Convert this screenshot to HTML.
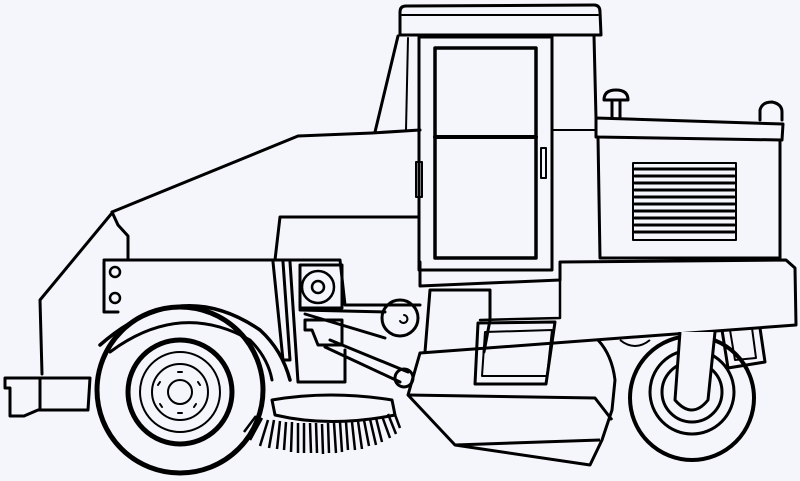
<!DOCTYPE html>
<html><head><style>html,body{margin:0;padding:0;background:#f4f6fc}svg{display:block}</style></head>
<body>
<svg width="800" height="481" viewBox="0 0 800 481" xmlns="http://www.w3.org/2000/svg">
<rect width="800" height="481" fill="#f4f6fc"/>
<g fill="none" stroke="#000" stroke-width="3" stroke-linejoin="round" stroke-linecap="round">
<path d="M400,35 L400,12 Q400,6 406,6 L594,5 Q600,5 600,12 L601,35 Z"/>
<line x1="402" y1="15" x2="598" y2="15" stroke-width="2"/>
<path d="M398,36 L375,132"/>
<path d="M408,38 L406,130" stroke-width="2"/>
<path d="M594,36 L596,118"/>
<path d="M112,212 L298,136 L372,133 L420,130"/>
<path d="M112,212 L118,225 L128,236 L128,258"/>
<rect x="419" y="37" width="133" height="233"/>
<rect x="435" y="48" width="101" height="210" stroke-width="3.5"/>
<line x1="435" y1="137" x2="536" y2="137" stroke-width="4"/>
<rect x="416" y="162" width="6" height="35" stroke-width="2"/>
<rect x="541" y="148" width="5" height="30" stroke-width="2"/>
<line x1="552" y1="130" x2="596" y2="130" stroke-width="2"/>
<path d="M596,118 L783,124 L782,140 L596,137 Z"/>
<path d="M598,137 L600,258 L780,258 L780,140"/>
<rect x="633" y="163" width="103" height="77" stroke-width="2"/>
<g stroke-width="3">
<line x1="635" y1="169" x2="734" y2="169"/><line x1="635" y1="176" x2="734" y2="176"/>
<line x1="635" y1="183" x2="734" y2="183"/><line x1="635" y1="190" x2="734" y2="190"/>
<line x1="635" y1="197" x2="734" y2="197"/><line x1="635" y1="204" x2="734" y2="204"/>
<line x1="635" y1="211" x2="734" y2="211"/><line x1="635" y1="218" x2="734" y2="218"/>
<line x1="635" y1="225" x2="734" y2="225"/><line x1="635" y1="232" x2="734" y2="232"/>
</g>
<path d="M612,118 L612,102 M620,118 L620,102 M604,100 Q604,90 616,90 Q628,90 628,100 Z"/>
<path d="M760,120 L760,110 Q762,102 772,102 Q782,104 782,112 L782,120"/>
<path d="M418,217 L280,217 L275,260"/>
<path d="M104,262 L104,312 L118,312"/>
<path d="M104,260 L340,260 L345,305 L420,305"/>
<circle cx="115" cy="272" r="5" stroke-width="2.5"/>
<circle cx="115" cy="298" r="5" stroke-width="2.5"/>
<path d="M420,262 L420,286 L560,280 L560,262 L786,260 L795,268 L796,325 L420,353"/>
<path d="M430,290 L425,352 M430,290 L490,290 L490,320 L484,352"/>
<path d="M480,320 L560,318 L560,270" stroke-width="2.5"/>
<path d="M478,323 L555,322 L546,384 L475,384 Z"/>
<path d="M485,332 L552,330 L547,376 L482,376 Z" stroke-width="2"/>
<path d="M100,345 Q180,275 260,330 Q282,350 290,380" stroke-width="3.5"/>
<path d="M110,352 Q180,300 250,340 Q268,358 272,380"/>
<path d="M112,213 L40,300 L42,374"/>
<path d="M5,378 L90,378 L88,410 L38,410 L24,416 L10,416 L10,388 L5,388 Z"/>
<line x1="40" y1="380" x2="40" y2="410"/>
<circle cx="180" cy="390" r="83" stroke-width="5"/>
<circle cx="180" cy="392" r="52" stroke-width="5"/>
<circle cx="180" cy="392" r="40" stroke-width="2"/>
<circle cx="180" cy="392" r="28" stroke-width="2"/>
<circle cx="180" cy="392" r="12" stroke-width="2"/>
<g stroke-width="2"><path d="M178,372 h4 M198,382 l2,3 M196,404 l-2,3 M178,413 h4 M160,404 l2,3 M160,382 l-2,3"/></g>
<path d="M273,262 L283,360 L290,360 L283,262"/>
<path d="M290,262 L298,382 L345,382 L345,350"/>
<path d="M300,265 L342,265 L342,308 L300,308 Z"/>
<circle cx="318" cy="287" r="16" stroke-width="2.5"/>
<circle cx="318" cy="287" r="6" stroke-width="2.5"/>
<path d="M300,310 L385,312 M305,314 L385,338"/>
<circle cx="400" cy="318" r="18"/>
<path d="M404,315 a4,4 0 1 1 -4,6" stroke-width="2"/>
<path d="M305,320 L342,320 L342,345 L318,345 L312,330 L305,330 Z"/>
<path d="M325,347 L400,382 M330,340 L408,372"/>
<circle cx="404" cy="378" r="9"/>
<path d="M272,400 Q330,390 392,400 L395,415 Q330,428 275,415 Z"/>
</g>
<g stroke="#000" stroke-width="2.5">
<path d="M262,418 l-12,22 M268,420 l-8,26 M274,420 l-5,28 M280,421 l-3,28 M286,422 l-2,28 M292,422 l-1,30 M298,423 l0,30 M304,423 l0,30 M310,423 l1,30 M316,423 l1,30 M322,424 l1,30 M328,423 l1,30 M334,423 l2,30 M340,422 l2,30 M346,422 l2,28 M352,422 l3,28 M358,421 l4,28 M364,420 l5,26 M370,419 l6,26 M376,418 l6,24 M382,416 l8,22 M388,414 l8,20 M394,412 l6,16 M256,416 l-12,16"/>
</g>
<g fill="none" stroke="#000" stroke-width="3" stroke-linejoin="round">
<path d="M420,353 L408,395 L455,445 L590,465 L602,440 L612,410 L615,380 Q612,355 598,340"/>
<path d="M408,395 L595,398 L612,420"/>
<path d="M455,445 L600,440"/>
<circle cx="692" cy="398" r="62" stroke-width="4"/>
<circle cx="692" cy="392" r="42" stroke-width="3"/>
<circle cx="692" cy="392" r="30" stroke-width="3"/>
<path d="M680,332 L675,400 Q692,420 708,400 L715,332" fill="#f4f6fc"/>
<path d="M620,340 Q635,352 650,340" stroke-width="2"/>
<path d="M722,330 L728,368 L765,362 L760,328"/>
<path d="M730,330 L735,360 L756,358 L752,328" stroke-width="2"/>
</g>
</svg>
</body></html>
